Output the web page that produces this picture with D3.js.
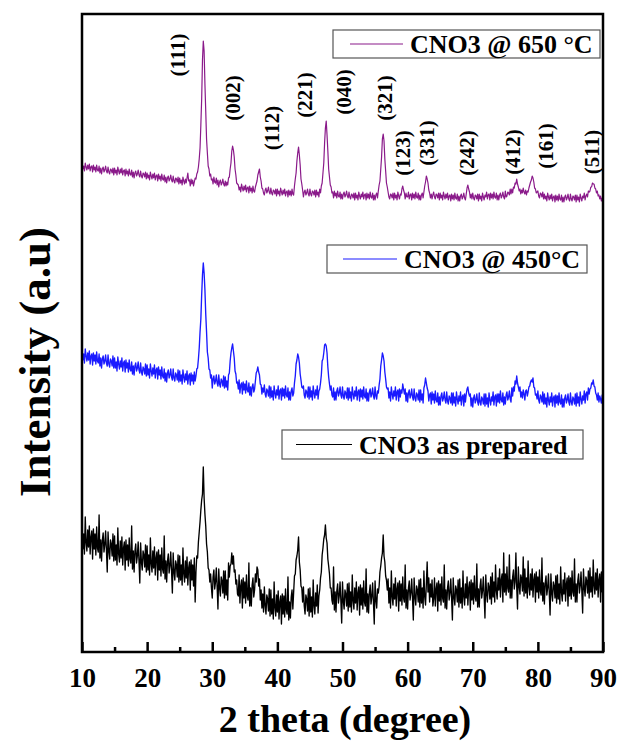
<!DOCTYPE html>
<html><head><meta charset="utf-8">
<script src="https://cdn.jsdelivr.net/npm/d3@7"></script>
<style>body{margin:0;background:#fff}text{font-family:"Liberation Serif","Times New Roman",serif;font-weight:bold}</style>
</head><body><svg id="c" width="620" height="742"></svg>
<script>
// sampling grid: 10 to 90 degrees in 0.125 degree steps (641 points), 8 values per degree below
const twoTheta = d3.range(0, 641).map(i => 10 + i * 0.125);

const cno3_650 = [
488,483,486,481,489,485,482,487, 483,488,481,485,486,480,487,482, 485,480,487,482,481,486,479,484, 478,483,485,480,482,486,481,479,
485,480,478,483,482,479,484,477, 484,479,482,477,485,481,478,483, 479,484,477,481,482,476,483,478, 481,476,483,478,477,482,475,480,
474,479,481,476,478,482,477,475, 481,476,474,479,478,475,480,473, 479,474,477,472,480,476,473,478, 474,479,472,476,477,471,478,473,
476,471,478,473,472,477,470,475, 469,474,476,471,473,477,472,470, 476,471,469,474,473,470,475,468, 474,469,472,467,475,471,468,473,
469,474,479,471,472,466,473,468, 472,466,470,474,473,478,480,485, 493,504,527,553,592,611,601,568, 541,513,499,486,483,476,478,472,
473,468,475,470,469,474,467,472, 465,470,472,467,469,473,468,466, 471,466,470,467,474,475,483,489, 501,506,502,495,483,477,469,468,
467,462,465,460,468,464,461,466, 462,467,460,464,465,459,466,461, 464,459,466,461,460,465,468,471, 477,480,483,475,471,464,463,459,
457,462,464,459,461,465,460,458, 464,459,457,462,461,458,463,456, 463,458,461,456,464,460,457,462, 458,463,456,460,461,455,462,457,
461,456,463,458,457,466,473,479, 491,499,505,497,487,473,468,462, 455,460,462,457,459,463,458,456, 463,458,456,461,460,457,462,455,
462,457,460,455,463,459,466,469, 479,489,509,524,531,517,501,483, 475,467,465,459,460,454,461,456, 459,454,461,456,455,460,453,458,
453,458,460,455,457,461,456,454, 460,455,453,458,457,454,459,452, 459,454,457,452,460,456,453,458, 455,460,453,457,458,452,459,454,
458,453,460,455,454,459,452,457, 452,457,459,454,461,467,471,483, 495,513,518,511,493,481,469,465, 460,455,453,458,457,454,459,452,
459,454,457,452,460,456,453,458, 457,463,466,462,459,453,459,455, 455,460,453,457,458,452,459,454, 458,453,460,455,454,459,452,457,
452,457,459,454,460,466,470,476, 473,469,462,459,454,458,453,457, 460,455,453,458,457,454,459,452, 459,454,457,452,460,456,453,458,
454,459,452,456,457,451,458,453, 457,452,459,454,453,458,451,456, 451,456,458,453,455,459,454,452, 458,464,467,463,460,454,458,453,
459,454,452,457,456,453,458,451, 458,453,456,451,459,455,452,457, 455,460,453,457,458,452,459,454, 458,453,460,455,454,459,452,457,
452,457,459,454,456,460,455,453, 461,455,456,460,459,457,463,458, 463,459,465,464,469,468,473,468, 465,461,463,458,462,459,464,460,
458,462,457,461,460,464,467,470, 472,476,474,470,464,463,459,460, 461,456,454,459,458,455,460,453, 458,453,456,451,459,455,452,457,
453,458,451,455,456,450,457,452, 456,451,458,453,452,457,450,455, 450,455,457,452,454,458,453,451, 458,453,451,456,455,452,457,450,
457,452,455,450,458,454,451,456, 454,459,452,456,458,455,461,460, 461,465,465,469,468,468,464,463, 459,461,456,457,453,456,451,454,
452];

const cno3_450 = [
302,292,298,289,303,296,291,299, 292,301,288,296,298,287,299,291, 297,288,300,291,289,298,286,294, 284,293,296,288,291,297,289,286,
297,288,285,293,291,286,296,284, 294,284,290,281,295,288,283,291, 285,294,281,289,291,280,292,284, 289,280,292,283,281,290,278,286,
277,286,289,281,284,290,282,279, 289,280,277,285,283,278,288,276, 287,277,283,274,288,281,276,284, 278,287,274,282,284,273,285,277,
282,273,285,276,274,283,271,279, 270,279,282,274,277,283,275,272, 283,274,271,279,277,272,282,270, 281,271,277,268,282,275,270,278,
272,281,268,276,278,267,279,271, 277,268,280,271,276,283,284,293, 304,320,333,357,377,389,379,362, 338,320,300,294,283,282,274,277,
264,273,276,268,271,277,269,266, 277,268,265,273,271,266,276,264, 275,265,271,262,277,279,291,299, 304,308,301,294,281,278,269,270,
263,272,259,267,269,258,270,262, 268,259,271,262,260,269,257,265, 256,265,268,260,263,271,279,281, 285,280,277,268,267,258,264,260,
267,258,255,263,261,256,266,254, 265,255,261,252,266,259,254,262, 257,266,253,261,263,252,264,256, 263,254,266,257,255,264,252,260,
252,261,264,256,259,269,276,288, 292,298,295,289,278,272,265,264, 266,257,254,262,260,255,265,253, 265,255,261,252,266,259,254,262,
257,266,253,261,263,269,277,291, 293,299,307,308,306,299,285,275, 268,262,266,257,255,264,252,260, 252,261,264,256,259,265,257,254,
265,256,253,261,259,254,264,252, 264,254,260,251,265,258,253,261, 256,265,252,260,262,251,263,255, 262,253,265,256,254,263,251,259,
251,260,263,255,258,264,256,253, 265,256,253,261,259,267,273,286, 292,299,296,291,280,273,265,263, 264,254,260,251,265,258,253,261,
256,265,252,260,262,251,263,255, 262,259,268,263,258,263,251,259, 250,259,262,254,257,263,255,252, 263,254,251,259,257,252,262,250,
262,252,258,249,264,267,274,269, 264,261,251,257,259,248,260,252, 258,249,261,252,250,259,247,255, 247,256,259,251,254,260,252,249,
260,251,248,256,254,249,259,247, 259,249,255,246,260,253,248,256, 251,260,247,255,257,246,258,250, 258,263,265,259,256,258,246,254,
245,254,257,249,252,258,250,247, 259,250,247,255,253,248,258,246, 258,248,254,245,259,252,247,255, 251,260,247,255,257,246,258,250,
258,249,261,252,250,259,247,255, 248,257,260,252,255,261,253,250, 264,256,265,261,271,268,276,269, 265,261,265,255,260,254,262,258,
252,261,262,256,260,265,266,270, 272,270,274,265,264,257,258,253, 261,252,249,257,255,250,260,248, 258,248,254,245,259,252,247,255,
250,259,246,254,256,245,257,249, 256,247,259,250,248,257,245,253, 245,254,257,249,252,258,250,247, 259,250,247,255,253,248,258,246,
259,249,255,246,260,253,248,256, 252,261,249,258,260,252,264,258, 263,264,269,268,272,266,265,259, 257,252,259,250,256,253,249,257,
254];

const cno3_prep = [
127,103,118,98,135,109,101,122, 105,126,98,115,121,93,123,103, 118,97,125,104,100,137,94,112, 91,112,119,100,107,121,102,80,
120,101,93,112,108,96,118,91, 116,92,107,87,124,98,90,111, 94,115,87,104,110,82,112,92, 107,86,114,93,89,126,83,101,
80,101,108,89,96,110,91,69, 109,90,82,101,97,85,107,80, 106,82,97,77,114,88,80,101, 84,105,77,94,100,72,102,82,
97,76,104,83,79,116,73,91, 70,91,98,79,86,100,81,59, 99,80,72,91,87,75,97,70, 96,72,87,67,104,78,70,91,
74,95,67,84,90,62,92,72, 87,66,94,50,80,96,94,110, 120,130,142,152,158,185,154,138, 126,108,100,84,82,70,78,64,
54,75,82,63,70,84,65,43, 83,64,56,75,71,59,81,54, 81,57,72,52,89,75,86,88, 99,88,96,80,82,68,72,58,
56,77,49,66,72,44,74,54, 70,49,77,56,52,89,46,64, 46,67,74,55,62,78,70,85, 82,66,73,52,62,44,58,40,
65,46,38,57,53,41,63,36, 62,38,53,33,70,44,36,57, 40,61,33,50,56,28,58,38, 56,35,63,42,38,75,32,50,
34,55,62,43,60,76,78,92, 96,102,115,90,82,66,64,50, 65,46,38,57,53,41,63,36, 64,40,55,35,72,46,38,59,
46,67,39,56,62,74,80,97, 104,113,117,127,114,109,93,86, 78,64,64,52,48,85,42,60, 40,61,68,49,56,70,51,29,
70,51,43,62,58,46,68,41, 69,45,60,40,77,51,43,64, 49,70,42,59,65,37,67,47, 64,43,71,50,46,83,40,58,
39,60,67,48,55,69,50,28, 71,52,44,63,59,66,80,86, 94,99,117,96,90,76,72,62, 73,49,64,44,81,55,47,68,
53,74,46,63,69,41,71,51, 68,47,75,54,50,87,44,62, 43,64,71,52,59,73,54,32, 74,55,47,66,62,50,72,45,
73,49,64,44,81,55,47,68, 90,60,74,50,68,55,72,46, 53,74,46,63,69,41,71,51, 68,47,75,54,50,87,44,62,
43,64,71,52,59,73,54,32, 74,55,47,66,62,50,72,45, 73,49,64,44,81,55,47,68, 54,75,47,64,70,42,72,52,
69,48,76,55,51,88,45,63, 45,66,73,54,61,75,56,34, 77,58,50,69,65,53,75,48, 79,55,70,50,87,61,53,74,
62,83,55,72,78,50,99,60, 78,57,85,64,60,97,54,72, 54,75,82,63,70,99,65,43, 85,66,58,77,73,61,95,56,
83,59,74,54,91,65,57,78, 62,83,55,72,78,50,80,60, 75,54,82,61,57,94,51,69, 48,69,76,57,64,78,59,37,
78,59,51,70,66,54,76,49, 77,53,68,48,85,59,51,72, 58,79,51,68,74,46,76,56, 74,53,81,60,56,93,50,68,
50,71,78,59,66,80,61,39, 83,64,56,75,71,59,81,54, 84,60,75,55,92,66,58,79, 62,83,55,72,78,50,80,60,
62];

const majorTicks = [10, 20, 30, 40, 50, 60, 70, 80, 90];
const minorTicks = [15, 25, 35, 45, 55, 65, 75, 85];
const hklText = ["(111)","(002)","(112)","(221)","(040)","(321)","(123)","(331)","(242)","(412)","(161)","(511)"];
const hklX = [24.74, 33.19, 39.18, 44.24, 50.23, 56.53, 59.29, 62.97, 69.12, 76.18, 81.25, 88.31];
const hklY = [597, 554, 524, 557, 560, 554, 499, 509, 499, 500, 506, 500];
const seriesNames = ["CNO3 @ 650 \u00B0C", "CNO3 @ 450\u00B0C", "CNO3 as prepared"];
const seriesColors = ["#8a1a8a", "#1a1aff", "#000000"];
const seriesWidths = [1.2, 1.35, 1.35];

const svg = d3.select("#c");
const x = d3.scaleLinear().domain([10, 90]).range([82, 603]);
const y = d3.scaleLinear().domain([0, 638]).range([652, 14]);

const line = d3.line().x((d, i) => x(twoTheta[i])).y(d => y(d));
[cno3_650, cno3_450, cno3_prep].forEach((s, k) => {
  svg.append("path").attr("d", line(s)).attr("fill", "none")
    .attr("stroke", seriesColors[k]).attr("stroke-width", seriesWidths[k]).attr("stroke-linejoin", "round");
});

// hkl labels
svg.append("g").selectAll("text").data(hklText).join("text")
  .attr("transform", (d, i) => `translate(${x(hklX[i])},${y(hklY[i])}) rotate(-90)`)
  .attr("text-anchor", "middle").attr("dominant-baseline", "central")
  .attr("font-size", 21).text(d => d);

// legends
const legends = [
  {x: 333, y: 30, w: 267, h: 28, lx1: 350, lx2: 403, tx: 410},
  {x: 327, y: 245, w: 260, h: 28, lx1: 343, lx2: 397, tx: 404},
  {x: 282, y: 430, w: 301, h: 29, lx1: 296, lx2: 352, tx: 359}
];
legends.forEach((L, k) => {
  const g = svg.append("g");
  g.append("rect").attr("x", L.x).attr("y", L.y).attr("width", L.w).attr("height", L.h)
    .attr("fill", "#fff").attr("stroke", "#555").attr("stroke-width", 1.2);
  g.append("line").attr("x1", L.lx1).attr("x2", L.lx2).attr("y1", L.y + L.h / 2).attr("y2", L.y + L.h / 2)
    .attr("stroke", seriesColors[k]).attr("stroke-width", 1.2);
  g.append("text").attr("x", L.tx).attr("y", L.y + L.h / 2).attr("dy", "0.36em")
    .attr("font-size", 26).attr("fill", "#000").text(seriesNames[k]);
});

// axes
const ax = svg.append("g").attr("transform", "translate(0,652)")
  .call(d3.axisBottom(x).tickValues(majorTicks).tickSize(-10).tickPadding(16).tickFormat(d3.format("d")));
ax.select(".domain").remove();
ax.selectAll("line").attr("stroke", "#000").attr("stroke-width", 2.5);
ax.selectAll("text").attr("font-size", 27).attr("font-family", "Liberation Serif").attr("font-weight", "bold").attr("fill", "#000");
const axm = svg.append("g").attr("transform", "translate(0,652)")
  .call(d3.axisBottom(x).tickValues(minorTicks).tickSize(-5).tickFormat(""));
axm.select(".domain").remove();
axm.selectAll("line").attr("stroke", "#000").attr("stroke-width", 2.5);

// frame
svg.append("rect").attr("x", 82).attr("y", 14).attr("width", 521).attr("height", 638)
  .attr("fill", "none").attr("stroke", "#000").attr("stroke-width", 2.5);

// axis titles
svg.append("text").attr("x", 345).attr("y", 732).attr("text-anchor", "middle")
  .attr("font-size", 38).text("2 theta (degree)");
svg.append("text").attr("transform", "translate(50,362) rotate(-90)").attr("text-anchor", "middle")
  .attr("font-size", 45).text("Intensity (a.u)");
</script></body></html>
